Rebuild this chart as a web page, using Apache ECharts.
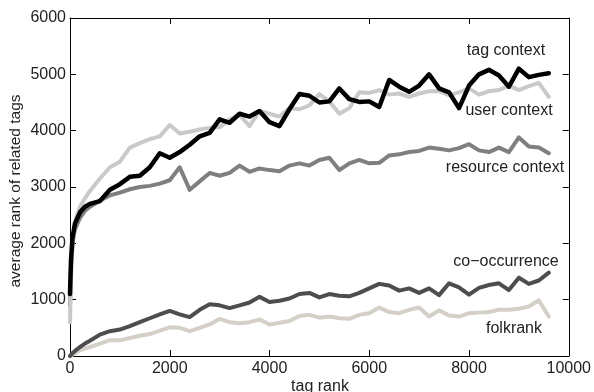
<!DOCTYPE html>
<html>
<head>
<meta charset="utf-8">
<script src="https://cdn.jsdelivr.net/npm/echarts@6/dist/echarts.min.js"></script>
<style>html,body{margin:0;padding:0;background:#fff}#c{width:594px;height:392px}</style>
</head>
<body>
<div id="c"></div>
<script>
// x positions (tag rank)
var tagRank = [0,20,50,100,200,300,400,600,800,1000,1200,1400,1600,1800,2000,2200,2400,2600,2800,3000,3200,3400,3600,3800,4000,4200,4400,4600,4800,5000,5200,5400,5600,5800,6000,6200,6400,6600,6800,7000,7200,7400,7600,7800,8000,8200,8400,8600,8800,9000,9200,9400,9600];

var tagContext = [1100,1700,2100,2350,2550,2650,2700,2750,2950,3050,3180,3200,3350,3600,3520,3620,3750,3900,3960,4200,4140,4300,4250,4350,4150,4080,4380,4650,4620,4500,4520,4750,4560,4510,4520,4420,4900,4780,4690,4800,5000,4750,4680,4400,4800,5000,5080,4980,4780,5100,4950,4990,5020];
var userContext = [600,1400,2000,2400,2650,2800,2930,3150,3350,3450,3700,3780,3850,3900,4100,3950,3980,4020,4050,4060,4200,4280,4080,4350,4300,4250,4400,4380,4450,4650,4520,4300,4400,4680,4670,4720,4640,4660,4600,4660,4700,4700,4630,4680,4750,4640,4700,4720,4800,4720,4790,4850,4600];
var resourceContext = [900,1600,2000,2250,2450,2580,2650,2760,2850,2900,2960,3000,3020,3060,3120,3350,2950,3100,3250,3200,3250,3380,3270,3330,3300,3280,3380,3420,3380,3480,3520,3300,3420,3480,3420,3430,3560,3580,3620,3640,3700,3680,3650,3690,3760,3650,3620,3700,3620,3880,3720,3700,3600];
var coOccurrence = [0,20,50,90,160,220,270,380,440,470,530,600,670,740,800,740,690,820,920,900,850,900,950,1050,960,980,1020,1100,1120,1040,1100,1070,1060,1120,1200,1280,1250,1160,1200,1120,1200,1080,1290,1220,1090,1210,1260,1290,1170,1390,1280,1340,1480];
var folkrank = [0,10,25,45,100,130,160,220,280,280,320,360,390,450,510,500,440,500,560,660,600,580,600,650,560,590,620,710,730,680,700,670,660,730,760,860,780,760,820,860,700,810,720,700,760,770,780,820,820,840,880,990,700];

var seriesNames = ['tag context','user context','resource context','co\u2212occurrence','folkrank'];
var xTicks = [0,2000,4000,6000,8000,10000];
var yTicks = [0,1000,2000,3000,4000,5000,6000];

var chart = echarts.init(document.getElementById('c'), null, {renderer:'canvas'});
function pairs(ys){ return tagRank.map(function(x,i){ return [x, ys[i]]; }); }
var font = 'Liberation Sans, Arial, Helvetica, sans-serif';
var txt = '#222';

function line(name, ys, color, w, z){
  return {name:name, type:'line', data:pairs(ys), showSymbol:false, symbol:'none', z:z,
    lineStyle:{color:color, width:w, join:'round', cap:'round'}, animation:false, silent:true};
}
function axis(extra){
  var a = {
    type:'value', splitLine:{show:false},
    axisLine:{show:true, onZero:false, lineStyle:{color:'#000', width:1}},
    axisTick:{show:true, inside:true, length:6, lineStyle:{color:'#000', width:1}}
  };
  for (var k in extra) a[k] = extra[k];
  return a;
}
var fmt = function(v){ return String(v); };
var option = {
  animation:false,
  grid: {left:70, right:23, top:18, bottom:36},
  xAxis:[
    axis({position:'bottom', min:xTicks[0], max:xTicks[xTicks.length-1], interval:2000,
      axisLabel:{color:txt, fontSize:16, fontFamily:font, margin:5, formatter:fmt}}),
    axis({position:'top', min:xTicks[0], max:xTicks[xTicks.length-1], interval:2000,
      axisLabel:{show:false}})
  ],
  yAxis:[
    axis({position:'left', min:yTicks[0], max:yTicks[yTicks.length-1], interval:1000,
      axisLabel:{color:txt, fontSize:16, fontFamily:font, margin:4, formatter:fmt}}),
    axis({position:'right', min:yTicks[0], max:yTicks[yTicks.length-1], interval:1000,
      axisLabel:{show:false}})
  ],
  series:[
    line(seriesNames[4], folkrank, '#d4d0c8', 4, 2),
    line(seriesNames[3], coOccurrence, '#4d4d4d', 4, 3),
    line(seriesNames[2], resourceContext, '#7f7f7f', 4, 4),
    line(seriesNames[1], userContext, '#c9c9c9', 4, 5),
    line(seriesNames[0], tagContext, '#000000', 4.5, 6)
  ],
  graphic:[
    {type:'text', x:506, y:51, style:{text:seriesNames[0], font:'16px '+font, fill:txt, textAlign:'center', textVerticalAlign:'middle'}},
    {type:'text', x:509, y:111, style:{text:seriesNames[1], font:'16px '+font, fill:txt, textAlign:'center', textVerticalAlign:'middle'}},
    {type:'text', x:505, y:168, style:{text:seriesNames[2], font:'16px '+font, fill:txt, textAlign:'center', textVerticalAlign:'middle'}},
    {type:'text', x:506, y:262, style:{text:seriesNames[3], font:'16px '+font, fill:txt, textAlign:'center', textVerticalAlign:'middle'}},
    {type:'text', x:514, y:329, style:{text:seriesNames[4], font:'16px '+font, fill:txt, textAlign:'center', textVerticalAlign:'middle'}},
    {type:'text', x:320, y:387, style:{text:'tag rank', font:'16px '+font, fill:txt, textAlign:'center', textVerticalAlign:'middle'}},
    {type:'text', x:16, y:191, rotation:Math.PI/2, style:{text:'average rank of related tags', font:'15.5px '+font, fill:txt, textAlign:'center', textVerticalAlign:'middle'}}
  ]
};
chart.setOption(option);
</script>
</body>
</html>
